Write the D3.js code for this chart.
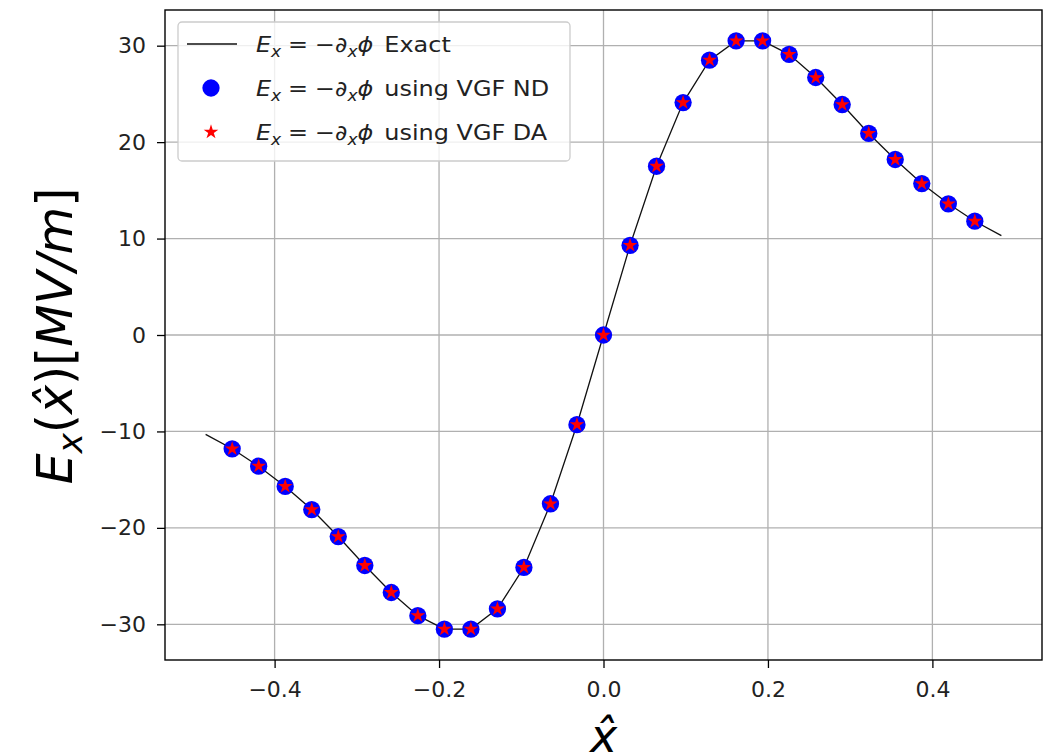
<!DOCTYPE html>
<html>
<head>
<meta charset="utf-8">
<script src="https://cdn.jsdelivr.net/npm/d3@7"></script>
<style>
  body { margin: 0; background: #fff; }
  svg { font-family: "DejaVu Sans", sans-serif; }
</style>
</head>
<body>
<svg width="1048" height="756"></svg>
<script>
// sample positions (x hat) and field values
var xPts = [-0.4516, -0.4194, -0.3871, -0.3548, -0.3226, -0.2903, -0.2581, -0.2258, -0.1935, -0.1613,
  -0.1290, -0.0968, -0.0645, -0.0323, 0.0, 0.0323, 0.0645, 0.0968, 0.1290, 0.1613,
  0.1935, 0.2258, 0.2581, 0.2903, 0.3226, 0.3548, 0.3871, 0.4194, 0.4516];
var ndVals = [-11.8, -13.6, -15.7, -18.1, -20.9, -23.9, -26.7, -29.1, -30.5, -30.5,
  -28.4, -24.1, -17.5, -9.3, 0.0, 9.3, 17.5, 24.1, 28.5, 30.5,
  30.5, 29.1, 26.7, 23.9, 20.9, 18.2, 15.7, 13.6, 11.8];
var daVals = ndVals.slice();
// exact curve sampled on the same grid, plus the two end points
var exactX = [-0.4839].concat(xPts, [0.4839]);
var exactVals = [-10.3].concat(ndVals, [10.3]);

var xTicks = [-0.4, -0.2, 0.0, 0.2, 0.4];
var yTicks = [-30, -20, -10, 0, 10, 20, 30];

var svg = d3.select('svg'),
  margin = {top: 10, right: 6, bottom: 96, left: 165},
  width = svg.attr('width') - margin.left - margin.right,
  height = svg.attr('height') - margin.top - margin.bottom,
  g = svg.append('g').attr('transform', 'translate(' + margin.left + ',' + margin.top + ')');

var x = d3.scaleLinear().domain([-0.5333, 0.5333]).range([0, width]),
  y = d3.scaleLinear().domain([-33.7, 33.7]).range([height, 0]);

var gridCol = '#b0b0b0';

// grid
g.append('g')
  .attr('class', 'grid')
  .selectAll('line.gx')
  .data(xTicks)
  .enter()
  .append('line')
  .attr('x1', d => x(d)).attr('x2', d => x(d))
  .attr('y1', 0).attr('y2', height)
  .style('stroke', gridCol).style('stroke-width', 1.3);
g.select('.grid')
  .selectAll('line.gy')
  .data(yTicks)
  .enter()
  .append('line')
  .attr('y1', d => y(d)).attr('y2', d => y(d))
  .attr('x1', 0).attr('x2', width)
  .style('stroke', gridCol).style('stroke-width', 1.3);

// exact line
var line = d3.line()
  .x(function(d) { return x(d[0]); })
  .y(function(d) { return y(d[1]); });

g.append('path')
  .datum(d3.zip(exactX, exactVals))
  .attr('d', line)
  .style('fill', 'none')
  .style('stroke', '#111')
  .style('stroke-width', 1.3);

// VGF ND circles
g.selectAll('.nd')
  .data(d3.zip(xPts, ndVals))
  .enter()
  .append('path')
  .attr('class', 'nd')
  .attr('transform', d => 'translate(' + x(d[0]) + ',' + y(d[1]) + ')')
  .attr('d', d3.symbol(d3.symbolCircle, 235))
  .style('fill', '#0000ff');

// VGF DA stars
g.selectAll('.da')
  .data(d3.zip(xPts, daVals))
  .enter()
  .append('path')
  .attr('class', 'da')
  .attr('transform', d => 'translate(' + x(d[0]) + ',' + y(d[1]) + ')')
  .attr('d', d3.symbol(d3.symbolStar, 66))
  .style('fill', '#ff0000');

// axes
var xAxis = g.append('g')
  .attr('transform', 'translate(0,' + height + ')')
  .call(d3.axisBottom(x).tickValues(xTicks).tickFormat(d3.format('.1f')).tickSize(8).tickPadding(13));
var yAxis = g.append('g')
  .call(d3.axisLeft(y).tickValues(yTicks).tickFormat(d3.format('d')).tickSize(8).tickPadding(11));

[xAxis, yAxis].forEach(function(a) {
  a.select('.domain').remove();
  a.selectAll('line').style('stroke', '#000').style('stroke-width', 1.3);
  a.selectAll('text').style('font-size', '22px').style('fill', '#222').style('font-family', '"DejaVu Sans"');
});

// frame
g.append('rect')
  .attr('width', width).attr('height', height)
  .style('fill', 'none').style('stroke', '#000').style('stroke-width', 1.4);

// axis labels
svg.append('text')
  .attr('x', margin.left + x(0))
  .attr('y', 752)
  .attr('text-anchor', 'middle')
  .style('font-size', '46px')
  .style('font-style', 'italic')
  .text('x\u0302');

var yl = svg.append('text')
  .attr('transform', 'translate(72,' + (margin.top + height / 2 + 1) + ') rotate(-90)')
  .attr('text-anchor', 'middle')
  .style('font-size', '49px');
yl.append('tspan').style('font-style', 'italic').text('E');
yl.append('tspan').style('font-style', 'italic').attr('dy', 10).style('font-size', '34px').text('x');
yl.append('tspan').attr('dy', -10).text('(');
yl.append('tspan').style('font-style', 'italic').text('x\u0302');
yl.append('tspan').text(')[');
yl.append('tspan').style('font-style', 'italic').text('MV/m');
yl.append('tspan').text(']');

// legend
var legendNames = ['Exact', 'using VGF ND', 'using VGF DA'];
var leg = svg.append('g').attr('transform', 'translate(178,22)');
leg.append('rect')
  .attr('width', 392).attr('height', 139).attr('rx', 4)
  .style('fill', 'rgba(255,255,255,0.8)')
  .style('stroke', '#cccccc').style('stroke-width', 1.3);

var rows = leg.selectAll('.row')
  .data(legendNames)
  .enter()
  .append('g')
  .attr('class', 'row')
  .attr('transform', (d, i) => 'translate(0,' + (22 + i * 44) + ')');

rows.filter((d, i) => i === 0)
  .append('line')
  .attr('x1', 9).attr('x2', 59)
  .style('stroke', '#111').style('stroke-width', 1.3);
rows.filter((d, i) => i === 1)
  .append('path')
  .attr('transform', 'translate(33,0)')
  .attr('d', d3.symbol(d3.symbolCircle, 235))
  .style('fill', '#0000ff');
rows.filter((d, i) => i === 2)
  .append('path')
  .attr('transform', 'translate(33,0)')
  .attr('d', d3.symbol(d3.symbolStar, 66))
  .style('fill', '#ff0000');

var lt = rows.append('text')
  .attr('transform', 'translate(78,0) scale(1.14,1)')
  .attr('dy', '0.36em')
  .style('font-size', '21px')
  .style('fill', '#222');
lt.append('tspan').style('font-style', 'italic').text('E');
lt.append('tspan').style('font-style', 'italic').style('font-size', '15px').attr('dy', 5).text('x');
lt.append('tspan').attr('dy', -5).attr('dx', 6).text('=');
lt.append('tspan').attr('dx', 6).text('\u2212\u2202');
lt.append('tspan').style('font-style', 'italic').style('font-size', '15px').attr('dy', 5).text('x');
lt.append('tspan').attr('dy', -5).style('font-style', 'italic').text('\u03d5');
lt.append('tspan').attr('dx', 3).text(d => ' ' + d);
</script>
</body>
</html>
